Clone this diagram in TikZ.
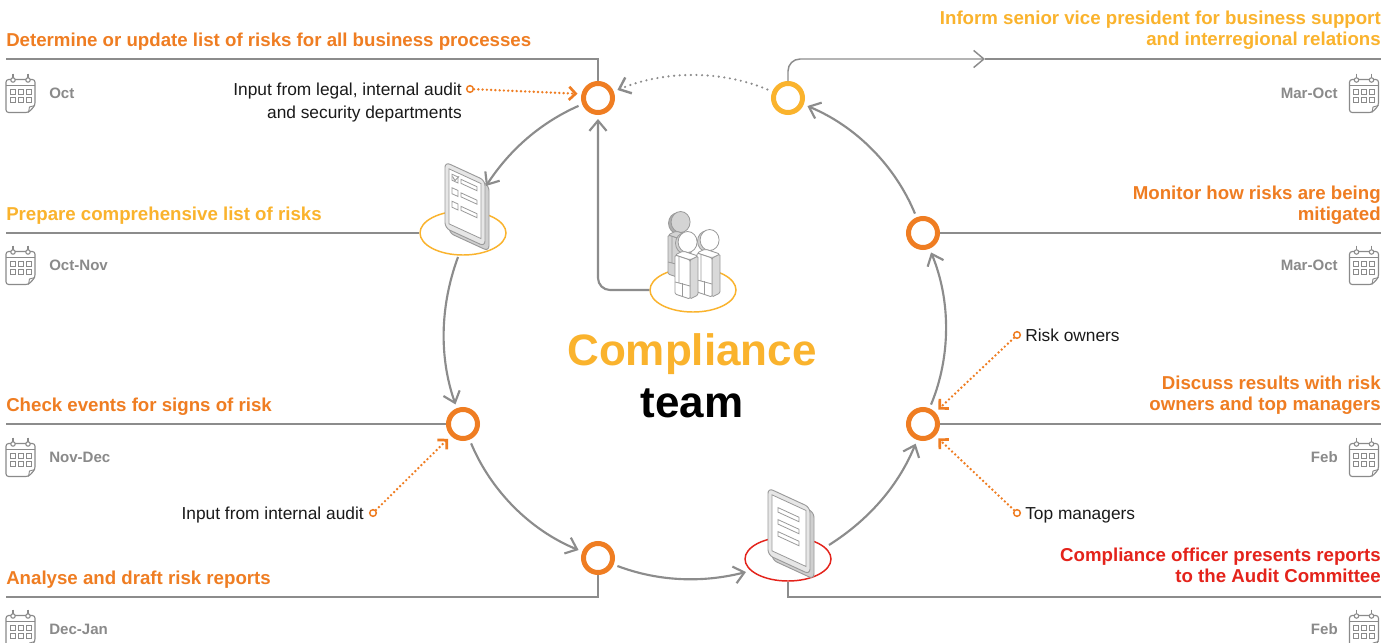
\documentclass[tikz,border=0pt]{standalone}
\usepackage{fontspec}
\setmainfont{Liberation Sans}
\usetikzlibrary{arrows.meta,shapes.geometric}

\definecolor{cOrange}{HTML}{EF7D22}
\definecolor{cYellow}{HTML}{FAB32D}
\definecolor{cRed}{HTML}{E4231B}
\definecolor{cLine}{HTML}{8C8C8C}
\definecolor{cMonth}{HTML}{8A8A8A}
\definecolor{cEdge}{HTML}{9A9A9A}
\definecolor{cSide}{HTML}{CFCFCF}
\definecolor{cFace}{HTML}{E6E6E6}
\definecolor{cShade}{HTML}{D4D4D4}
\definecolor{cInk}{HTML}{1A1A1A}

\tikzset{
  % wall calendar with a dog-eared corner
  pics/calendar/.style={code={
    \draw[cMonth, line width=0.85pt, line join=round, rounded corners=2pt]
      (-14.5,-14) -- (14.5,-14) -- (14.5,12) -- (8,19) -- (-14.5,19) -- cycle;
    \draw[cMonth, line width=0.85pt] (-14.5,-8) -- (14.5,-8);
    \draw[cMonth, line width=0.7pt, line join=round] (8,19) -- (9,13.5) -- (14.5,12);
    \foreach \rx in {-7.5,7.5}{
      \draw[cMonth, line width=0.8pt] (\rx,-20) -- (\rx,-15.5);
      \draw[cMonth, line width=0.8pt, fill=white] (\rx,-13.5) circle[radius=2.2];
    }
    \foreach \gx in {-10.5,-2.5,5.5}{
      \foreach \gy in {-4.5,3.5}{
        \draw[cMonth, line width=0.7pt] (\gx,\gy) rectangle ++(5,5);
      }
    }
  }},
  % isometric figure, origin at the head
  pics/person/.style={code={
    \draw[cEdge, line width=0.6pt, fill=#1!82!black] (-2,1.2) ellipse[x radius=9.5, y radius=10.5];
    \draw[cEdge, line width=0.6pt, fill=#1] (0.6,0) ellipse[x radius=9.5, y radius=10.5];
    \draw[cEdge, line width=0.6pt, fill=#1!85!black, line join=round, rounded corners=1pt]
      (3,18) -- (11,14) -- (11,53) -- (3,57) -- cycle;
    \draw[cEdge, line width=0.6pt, fill=#1, line join=round, rounded corners=1.5pt]
      (-12,13) -- (-4,9) -- (11,14) -- (3,18) -- cycle;
    \draw[cEdge, line width=0.6pt, fill=#1, line join=round, rounded corners=1pt]
      (-12,13) -- (3,18) -- (3,57) -- (-12,52) -- cycle;
    \draw[cEdge, line width=0.6pt] (-4.5,41) -- (-4.5,54.5);
    \draw[cEdge, line width=0.6pt] (-8,15) -- (-8,41) -- (-12,40);
    \draw[cEdge, line width=0.6pt] (-8,41) -- (3,44);
  }},
}

\begin{document}
\begin{tikzpicture}[x=0.75pt, y=-0.75pt,
  rule/.style={draw=cLine, line width=1.1pt},
  flow/.style={draw=cLine, line width=1.6pt, looseness=0.9,
    -{Straight Barb[angle=80:10pt]}},
  ring/.style={circle, draw=#1, line width=3.75pt, minimum size=21.75pt,
    inner sep=0pt, fill=white},
  base/.style={ellipse, draw=#1, line width=1.1pt, minimum width=64.5pt,
    minimum height=33pt, inner sep=0pt},
  feed/.style={draw=cOrange, line width=2pt, line cap=round,
    dash pattern=on 0pt off 3.2pt, shorten >=3pt,
    -{Straight Barb[angle=90:7pt]}},
  feedend/.style={circle, draw=cOrange, line width=1.1pt, fill=white,
    minimum size=5pt, inner sep=0pt},
  ttl/.style={font=\fontsize{14}{15.4}\selectfont\bfseries, inner sep=0pt},
  month/.style={font=\fontsize{11.3}{13}\selectfont\bfseries, text=cMonth,
    inner sep=0pt},
  note/.style={font=\fontsize{13}{17.25}\selectfont, text=cInk, inner sep=0pt},
]
\fill[white] (0,0) rectangle (1397,643);
\useasboundingbox (0,0) rectangle (1397,643);

% ---------- bases under the icons ----------
\node[base=cYellow] (e8) at (463,233) {};
\node[base=cYellow] (pe) at (693,290) {};
\node[base=cRed]    (e5) at (788,559) {};

% ---------- checklist tablet ----------
\begin{scope}[shift={(445,162)}, yslant=-0.46]
  \draw[cEdge, line width=0.7pt, fill=cSide, rounded corners=4pt] (4,3) rectangle (44,69);
  \draw[cEdge, line width=0.7pt, fill=cFace, rounded corners=4pt] (0,0) rectangle (40,66);
  \draw[cEdge, line width=0.6pt, fill=white] (4,5) rectangle (36,60);
  \foreach \ry in {9,22.5,36}{
    \draw[cEdge, line width=0.6pt] (7,\ry) rectangle ++(6,6);
    \draw[cEdge, line width=0.6pt] (16,\ry+1) rectangle ++(16,4);
  }
  \draw[cEdge, line width=0.7pt, line join=round] (7.5,11) -- (10,14) -- (14,8);
\end{scope}

% ---------- report tablet ----------
\begin{scope}[shift={(768,488)}, yslant=-0.46]
  \draw[cEdge, line width=0.7pt, fill=cSide, rounded corners=4pt] (4,3) rectangle (46,70);
  \draw[cEdge, line width=0.7pt, fill=cFace, rounded corners=4pt] (0,0) rectangle (42,67);
  \draw[cEdge, line width=0.6pt, fill=white] (4,5) rectangle (38,61);
  \foreach \ry in {15,27,39}{
    \draw[cEdge, line width=0.6pt] (10,\ry) rectangle ++(21,4.5);
  }
\end{scope}

% ---------- team ----------
\pic at (680,222) {person=cShade};
\pic at (709,240) {person=white};
\pic at (687,242) {person=white};

% ---------- cycle steps ----------
\node[ring=cOrange] (s1) at (598,98)  {};
\node[ring=cYellow] (s2) at (788,98)  {};
\node[ring=cOrange] (s3) at (923,233) {};
\node[ring=cOrange] (s4) at (923,424) {};
\node[ring=cOrange] (s6) at (598,558) {};
\node[ring=cOrange] (s7) at (463,424) {};

\coordinate (t8in)  at (486,186);
\coordinate (t8out) at (458,257);
\coordinate (t5in)  at (746,572);
\coordinate (t5out) at (829,545);

\draw[flow, shorten <=3pt] (s1) to[bend right=16.5] (t8in);
\draw[flow, shorten >=3pt] (t8out) to[bend right=19.7] (s7);
\draw[flow, shorten <=3pt, shorten >=3pt] (s7) to[bend right=22.5] (s6);
\draw[flow, shorten <=3pt] (s6) to[bend right=17.4] (t5in);
\draw[flow, shorten >=3pt] (t5out) to[bend right=17.7] (s4);
\draw[flow, shorten <=3pt, shorten >=3pt] (s4) to[bend right=22.5] (s3);
\draw[flow, shorten <=3pt, shorten >=3pt] (s3) to[bend right=22.5] (s2);
\draw[flow, line cap=round, dash pattern=on 0pt off 4.2pt, line width=1.8pt,
  shorten <=4pt, shorten >=3pt] (s2) to[bend right=22.5] (s1);
\draw[flow, rounded corners=9pt, shorten >=3pt] (pe.west) -| (s1);

% ---------- timeline rules ----------
\coordinate (l1) at (6,59);    \coordinate (r1) at (1381,59);
\coordinate (l2) at (6,233);   \coordinate (r2) at (1381,233);
\coordinate (l3) at (6,424);   \coordinate (r3) at (1381,424);
\coordinate (l4) at (6,597);   \coordinate (r4) at (1381,597);
\coordinate (amid) at (985,59);

\draw[rule] (l1) -| (s1);
\draw[rule, rounded corners=9pt, -{Straight Barb[angle=80:10pt]}] (s2) |- (amid);
\draw[rule] (amid) -- (r1);
\draw[rule] (l2) -- (e8);
\draw[rule] (s3) -- (r2);
\draw[rule] (l3) -- (s7);
\draw[rule] (s4) -- (r3);
\draw[rule] (l4) -| (s6);
\draw[rule] (r4) -| (e5);

% ---------- inputs ----------
\node[feedend] (f1) at (470,89)   {};
\node[feedend] (f2) at (373,513)  {};
\node[feedend] (f3) at (1017,335) {};
\node[feedend] (f4) at (1017,513) {};
\draw[feed] (f1) -- (s1.166);
\draw[feed] (f2) -- (s7);
\draw[feed] (f3) -- (s4);
\draw[feed] (f4) -- (s4);

\node[note, anchor=base east, align=right] (i1) at (462,118)
  {Input from legal, internal audit\\and security departments};
\node[note, anchor=base east] (i2) at (364,519) {Input from internal audit};
\node[note, anchor=base west] (i3) at (1025,341) {Risk owners};
\node[note, anchor=base west] (i4) at (1025,519) {Top managers};

% ---------- step titles ----------
\node[ttl, text=cOrange, anchor=base west] (h1) at (6,46)
  {Determine or update list of risks for all business processes};
\node[ttl, text=cYellow, anchor=base west] (h2) at (6,220)
  {Prepare comprehensive list of risks};
\node[ttl, text=cOrange, anchor=base west] (h3) at (6,411)
  {Check events for signs of risk};
\node[ttl, text=cOrange, anchor=base west] (h4) at (6,584)
  {Analyse and draft risk reports};
\node[ttl, text=cYellow, anchor=base east, align=right] (h5) at (1381,45)
  {Inform senior vice president for business support\\and interregional relations};
\node[ttl, text=cOrange, anchor=base east, align=right] (h6) at (1381,220)
  {Monitor how risks are being\\mitigated};
\node[ttl, text=cOrange, anchor=base east, align=right] (h7) at (1381,410)
  {Discuss results with risk\\owners and top managers};
\node[ttl, text=cRed, anchor=base east, align=right] (h8) at (1381,582)
  {Compliance officer presents reports\\to the Audit Committee};

% ---------- calendars ----------
\pic (cl1) at (20.5,93.5)  {calendar};
\pic (cl2) at (20.5,265.5) {calendar};
\pic (cl3) at (20.5,457.5) {calendar};
\pic (cl4) at (20.5,629.5) {calendar};
\pic (cr1) at (1364,93.5)  {calendar};
\pic (cr2) at (1364,265.5) {calendar};
\pic (cr3) at (1364,457.5) {calendar};
\pic (cr4) at (1364,629.5) {calendar};

\node[month, anchor=base west] (ml1) at (49,98)  {Oct};
\node[month, anchor=base west] (ml2) at (49,270) {Oct-Nov};
\node[month, anchor=base west] (ml3) at (49,462) {Nov-Dec};
\node[month, anchor=base west] (ml4) at (49,634) {Dec-Jan};
\node[month, anchor=base east] (mr1) at (1338,98)  {Mar-Oct};
\node[month, anchor=base east] (mr2) at (1338,270) {Mar-Oct};
\node[month, anchor=base east] (mr3) at (1338,462) {Feb};
\node[month, anchor=base east] (mr4) at (1338,634) {Feb};

% ---------- centre label ----------
\node[font=\fontsize{33}{36}\selectfont\bfseries, text=cYellow, anchor=base, inner sep=0pt]
  (ct1) at (692,365) {Compliance};
\node[font=\fontsize{33}{36}\selectfont\bfseries, text=black, anchor=base, inner sep=0pt]
  (ct2) at (692,417) {team};
\end{tikzpicture}
\end{document}
